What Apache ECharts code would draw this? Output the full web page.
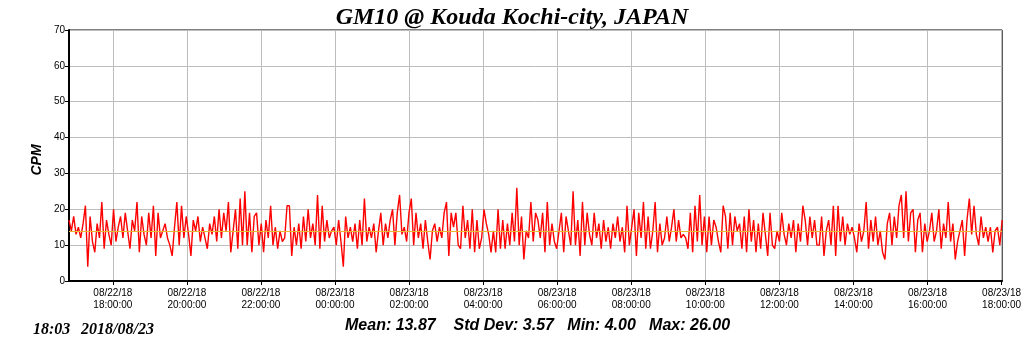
<!DOCTYPE html>
<html>
<head>
<meta charset="utf-8">
<script src="https://cdn.jsdelivr.net/npm/echarts@6/dist/echarts.min.js"></script>
<style>
  html, body { margin: 0; padding: 0; background: #fff; }
  #chart { width: 1024px; height: 351px; }
</style>
</head>
<body>
<div id="chart"></div>
<script>
// minutes counted from 08/22/18 00:00
var startMin = 1009;   // 08/22 16:49
var endMin = 2521;     // 08/23 18:01

var tickMinutes = [1080, 1200, 1320, 1440, 1560, 1680, 1800, 1920, 2040, 2160, 2280, 2400, 2520];
var tickLabels = [
  '08/22/18\n18:00:00', '08/22/18\n20:00:00', '08/22/18\n22:00:00', '08/23/18\n00:00:00',
  '08/23/18\n02:00:00', '08/23/18\n04:00:00', '08/23/18\n06:00:00', '08/23/18\n08:00:00',
  '08/23/18\n10:00:00', '08/23/18\n12:00:00', '08/23/18\n14:00:00', '08/23/18\n16:00:00',
  '08/23/18\n18:00:00'
];

// counts per minute (evenly spaced in time)
var cpm = [
  17,14,18,13,15,12,16,21,4,18,11,8,16,12,22,9,17,13,10,20,11,15,18,12,19,14,9,17,14,22,8,18,13,10,19,12,21,7,19,12,
  14,16,12,10,7,15,22,10,21,12,18,13,7,17,14,18,11,15,12,9,16,13,18,11,20,12,19,14,22,8,14,20,9,23,10,25,10,19,8,18,
  19,10,16,8,17,12,21,10,15,9,14,11,12,21,21,7,15,10,16,9,18,11,20,12,16,10,24,9,21,11,17,12,14,15,10,17,11,4,18,12,
  15,11,16,9,17,10,23,11,15,12,16,8,14,19,10,16,12,17,20,10,19,24,13,15,11,19,23,10,19,12,16,9,17,11,6,14,16,11,15,12,
  19,22,7,19,15,19,10,9,21,12,17,9,20,8,17,9,12,20,16,13,8,14,8,20,9,17,9,16,10,19,11,26,10,18,6,14,12,22,11,19,
  17,12,19,8,22,10,16,11,9,14,19,8,18,14,10,25,10,17,7,22,10,19,13,10,19,12,16,9,17,11,15,9,16,12,18,11,15,8,21,10,
  15,20,7,19,12,22,9,18,9,14,22,8,16,10,12,18,11,15,20,11,17,12,13,12,9,19,8,21,11,24,10,18,8,18,10,17,15,11,8,21,
  18,9,19,10,18,14,16,9,18,8,20,11,17,8,16,9,19,13,7,19,10,9,14,11,19,13,10,16,12,17,8,16,11,21,17,10,18,12,17,10,
  10,18,7,14,17,10,21,7,21,11,18,10,16,13,15,12,8,16,11,14,22,9,17,11,18,10,14,8,6,16,19,10,18,12,21,24,12,25,11,19,
  20,8,17,19,8,16,11,14,19,11,14,20,9,16,12,22,11,16,6,11,14,17,7,17,23,13,21,13,10,18,12,15,11,15,8,14,15,10,17
];

var meanValue = 13.87;
var titleText = 'GM10 @ Kouda Kochi-city, JAPAN';
var stampTime = '18:03';
var stampDate = '2018/08/23';
var statsText = 'Mean: 13.87    Std Dev: 3.57   Min: 4.00   Max: 26.00';

var step = (endMin - startMin) / (cpm.length - 1);
var lineData = cpm.map(function (v, i) { return [startMin + i * step, v]; });

var chart = echarts.init(document.getElementById('chart'), null, { renderer: 'canvas' });

var option = {
  animation: false,
  backgroundColor: '#fff',
  title: {
    text: titleText,
    left: 'center',
    top: 1,
    textStyle: {
      fontFamily: 'Liberation Serif',
      fontStyle: 'italic',
      fontWeight: 'bold',
      fontSize: 24,
      color: '#000'
    }
  },
  grid: {
    left: 69, right: 18, top: 30, bottom: 70,
    show: true,
    borderColor: '#000',
    borderWidth: 1,
    backgroundColor: 'transparent'
  },
  xAxis: {
    type: 'value',
    min: startMin,
    max: endMin,
    axisLine: { lineStyle: { color: '#000', width: 2 } },
    axisTick: { customValues: tickMinutes, length: 4, lineStyle: { color: '#000' } },
    axisLabel: {
      customValues: tickMinutes,
      formatter: function (val) {
        var k = tickMinutes.indexOf(Math.round(val));
        return k >= 0 ? tickLabels[k] : '';
      },
      fontFamily: 'Liberation Sans',
      fontSize: 10,
      lineHeight: 12,
      color: '#000',
      margin: 6
    },
    splitLine: { show: true, lineStyle: { color: '#bdbdbd', width: 1 } }
  },
  yAxis: {
    type: 'value',
    min: 0,
    max: 70,
    interval: 10,
    axisLine: { show: true, lineStyle: { color: '#000', width: 2 } },
    axisTick: { show: true, length: 4, lineStyle: { color: '#000' } },
    axisLabel: { fontFamily: 'Liberation Sans', fontSize: 10, color: '#000', margin: 4 },
    splitLine: { show: true, lineStyle: { color: '#bdbdbd', width: 1 } }
  },
  series: [
    {
      type: 'line',
      data: [],
      z: 1,
      markLine: {
        silent: true,
        symbol: 'none',
        label: { show: false },
        lineStyle: { color: '#e8b830', width: 1, type: 'solid' },
        data: [{ yAxis: meanValue }]
      }
    },
    {
      type: 'line',
      data: lineData,
      z: 2,
      showSymbol: false,
      symbol: 'none',
      lineStyle: { color: '#ff0000', width: 1.4 }
    }
  ],
  graphic: [
    {
      type: 'text',
      x: 37,
      y: 160,
      rotation: Math.PI / 2,
      style: {
        text: 'CPM',
        font: 'italic bold 14px "Liberation Sans"',
        fill: '#000',
        align: 'center',
        verticalAlign: 'middle'
      }
    },
    {
      type: 'text',
      left: 33,
      top: 322,
      style: { text: stampTime, font: 'italic bold 16px "Liberation Serif"', fill: '#000' }
    },
    {
      type: 'text',
      left: 81,
      top: 322,
      style: { text: stampDate, font: 'italic bold 16px "Liberation Serif"', fill: '#000' }
    },
    {
      type: 'text',
      left: 345,
      top: 318,
      style: { text: statsText, font: 'italic bold 16px "Liberation Sans"', fill: '#000' }
    }
  ]
};

chart.setOption(option);
</script>
</body>
</html>
